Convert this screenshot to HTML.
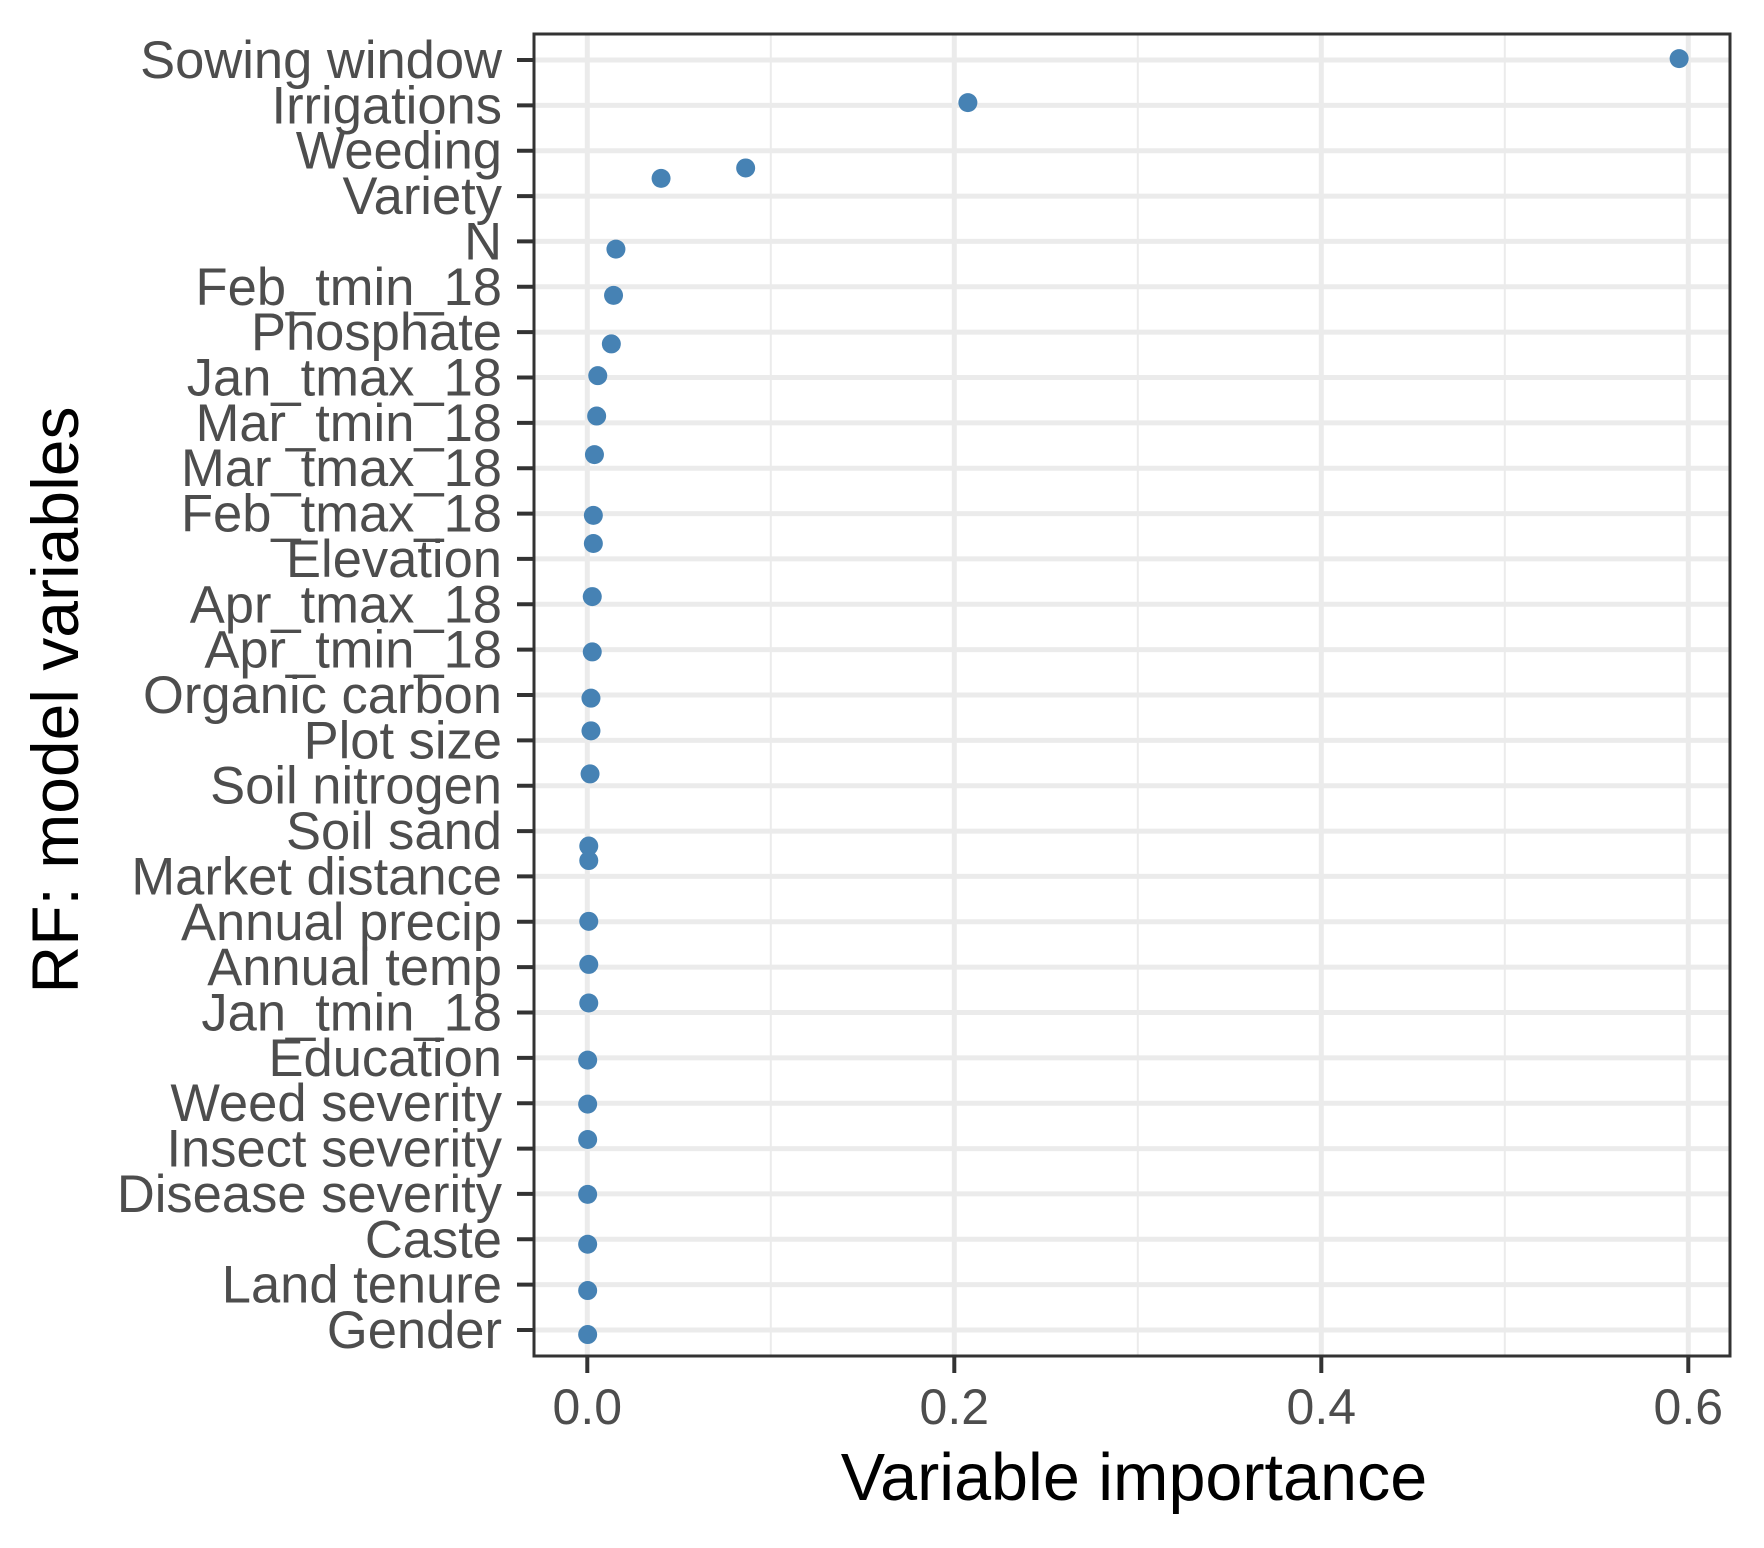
<!DOCTYPE html>
<html><head><meta charset="utf-8"><style>
html,body{margin:0;padding:0;background:#fff;}
svg{display:block;}
text{font-family:"Liberation Sans",Arial,sans-serif;}
</style></head><body>
<svg id="chart" width="1764" height="1548" viewBox="0 0 1764 1548" xmlns="http://www.w3.org/2000/svg">
<rect x="0" y="0" width="1764" height="1548" fill="#fff"/>
<g id="grid"></g>
<g id="points"></g>
<rect x="534" y="34" width="1196" height="1322" fill="none" stroke="#333" stroke-width="3"/>
<g id="yaxis"></g>
<g id="xaxis"></g>
<text x="1134" y="1500" font-size="66.5" text-anchor="middle" fill="#000">Variable importance</text>
<text transform="translate(78,700) rotate(-90)" font-size="66" text-anchor="middle" fill="#000">RF: model variables</text>
</svg>
<script>
const categories = ["Sowing window","Irrigations","Weeding","Variety","N","Feb_tmin_18","Phosphate","Jan_tmax_18","Mar_tmin_18","Mar_tmax_18","Feb_tmax_18","Elevation","Apr_tmax_18","Apr_tmin_18","Organic carbon","Plot size","Soil nitrogen","Soil sand","Market distance","Annual precip","Annual temp","Jan_tmin_18","Education","Weed severity","Insect severity","Disease severity","Caste","Land tenure","Gender"];
const importance = [0.595,0.2074,0.0863,0.0402,0.0156,0.0143,0.0131,0.0057,0.0051,0.0039,0.0033,0.0033,0.0027,0.0027,0.0020,0.0020,0.0015,0.0008,0.0008,0.0008,0.0008,0.0008,0.0002,0.0002,0.0002,0.0002,0.0002,0.0002,0.0002];
const pointRank = [-0.03,0.94,2.38,2.61,4.17,5.19,6.26,6.96,7.85,8.70,10.04,10.66,11.83,13.05,14.07,14.79,15.74,17.33,17.65,18.99,19.94,20.79,22.05,23.02,23.80,25.01,26.11,27.13,28.10];
const xTicks = [0,0.2,0.4,0.6];
const xTickLabels = ["0.0","0.2","0.4","0.6"];
const xMinor = [0.1,0.3,0.5];

const NS="http://www.w3.org/2000/svg";
const PL=534, PR=1730, PT=34, PB=1356;
const x0=587.3, xPer=(1688.3-587.3)/0.6;
function xs(v){return x0+v*xPer;}
const rowTop=60, rowStep=(1330-60)/(categories.length-1);
function ys(i){return rowTop+i*rowStep;}
function mk(tag,attrs,parent){const e=document.createElementNS(NS,tag);for(const k in attrs)e.setAttribute(k,attrs[k]);parent.appendChild(e);return e;}
const grid=document.getElementById('grid'), pts=document.getElementById('points'), ya=document.getElementById('yaxis'), xa=document.getElementById('xaxis');

xMinor.forEach(v=>{
  const l=mk('line',{x1:xs(v),x2:xs(v),y1:PT,y2:PB,stroke:'#ebebeb','stroke-width':2},grid);
  
  
});
xTicks.forEach((v,i)=>{
  const l=mk('line',{x1:xs(v),x2:xs(v),y1:PT,y2:PB,stroke:'#ebebeb','stroke-width':5},grid);
  
  
  const t=mk('line',{x1:xs(v),x2:xs(v),y1:PB,y2:PB+17,stroke:'#333','stroke-width':4},xa);
  
  
  const tx=mk('text',{x:xs(v),y:1424,'font-size':50,'text-anchor':'middle',fill:'#4d4d4d'},xa);
  tx.textContent=xTickLabels[i];
  
  
});
categories.forEach((c,i)=>{
  const y=ys(i);
  const l=mk('line',{x1:PL,x2:PR,y1:y,y2:y,stroke:'#ebebeb','stroke-width':5},grid);
  
  
  const t=mk('line',{x1:PL-17,x2:PL,y1:y,y2:y,stroke:'#333','stroke-width':4},ya);
  
  
  const tx=mk('text',{x:502,y:y+18,'font-size':52.5,'text-anchor':'end',fill:'#4d4d4d'},ya);
  tx.textContent=c;
  
  
});
importance.forEach((v,i)=>{
  const p=mk('circle',{cx:xs(v),cy:ys(pointRank[i]),r:9.5,fill:'#4682b4'},pts);
  
  
});
</script>
</body></html>
